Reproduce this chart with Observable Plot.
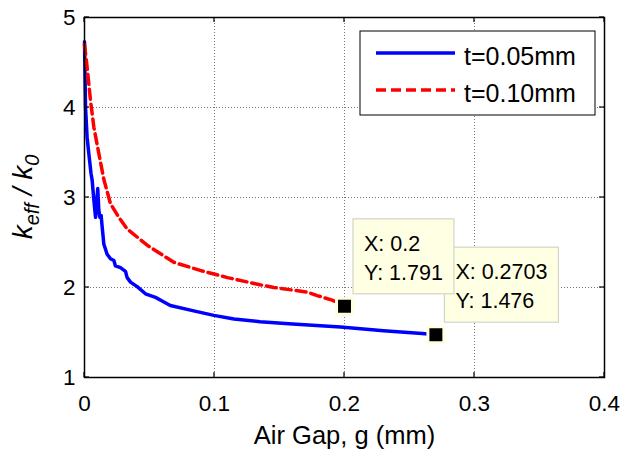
<!DOCTYPE html>
<html><head><meta charset="utf-8">
<script src="https://cdn.jsdelivr.net/npm/d3@7"></script>
<script src="https://cdn.jsdelivr.net/npm/@observablehq/plot@0.6"></script>
<style>body{margin:0;background:#fff} svg{display:block}</style>
</head><body><div id="chart"></div>
<script>
const xTicks = [0, 0.1, 0.2, 0.3, 0.4];
const yTicks = [1, 2, 3, 4, 5];
const seriesNames = ["t=0.05mm", "t=0.10mm"];
const xLabel = "Air Gap, g (mm)";

const blueX = [0, 0.0008, 0.002, 0.0033, 0.005, 0.0059, 0.0072, 0.0085, 0.0102, 0.011, 0.0118, 0.0128, 0.0136, 0.0149, 0.0174, 0.02, 0.0226, 0.0238, 0.0277, 0.0315, 0.0328, 0.0354, 0.0405, 0.0469, 0.0546, 0.0597, 0.066, 0.084, 0.0995, 0.115, 0.135, 0.16, 0.197, 0.23, 0.2597, 0.2703];
const blueY = [4.73, 4.0, 3.67, 3.49, 3.27, 3.19, 2.97, 2.78, 3.10, 2.86, 2.78, 2.80, 2.67, 2.48, 2.37, 2.32, 2.30, 2.24, 2.22, 2.18, 2.11, 2.06, 2.01, 1.93, 1.89, 1.85, 1.80, 1.74, 1.69, 1.65, 1.62, 1.595, 1.56, 1.52, 1.49, 1.476];

const redX = [0, 0.002, 0.0046, 0.0072, 0.011, 0.0149, 0.02, 0.0264, 0.0328, 0.0482, 0.0687, 0.089, 0.11, 0.135, 0.1456, 0.171, 0.179, 0.1905, 0.2];
const redY = [4.70, 4.45, 4.08, 3.78, 3.49, 3.20, 2.93, 2.78, 2.65, 2.47, 2.28, 2.19, 2.11, 2.03, 2.00, 1.95, 1.91, 1.86, 1.791];

const tipX = [0.2, 0.2703];
const tipY = [1.791, 1.476];
const tipLines = [["X: 0.2", "Y: 1.791"], ["X: 0.2703", "Y: 1.476"]];

const blue = blueX.map((x, i) => ({x, y: blueY[i]}));
const red = redX.map((x, i) => ({x, y: redY[i]}));
const tips = tipX.map((x, i) => ({x, y: tipY[i], lines: tipLines[i]}));

const FONT = "'Liberation Sans', Arial, Helvetica, sans-serif";

const plot = Plot.plot({
  width: 621, height: 454,
  marginLeft: 84, marginRight: 17, marginTop: 17, marginBottom: 77,
  x: {domain: [0, 0.4]},
  y: {domain: [1, 5]},
  style: {fontFamily: FONT, background: "#fff", color: "#000"},
  marks: [
    Plot.gridX(xTicks, {stroke: "#777", strokeOpacity: 1, strokeDasharray: "1,2"}),
    Plot.gridY(yTicks, {stroke: "#777", strokeOpacity: 1, strokeDasharray: "1,2"}),
    Plot.line(blue, {x: "x", y: "y", stroke: "#0000ff", strokeWidth: 3.5}),
    Plot.line(red, {x: "x", y: "y", stroke: "#ff0000", strokeWidth: 3.5, strokeDasharray: "10,5"}),
    Plot.dot(tips, {x: "x", y: "y", symbol: "square", r: 9, fill: "#000", stroke: "#ffffe0", strokeWidth: 3}),
    Plot.axisX(xTicks, {tickSize: 0, tickPadding: 18, fontSize: 22.5, label: null, tickFormat: d => String(d)}),
    Plot.axisY(yTicks, {tickSize: 0, tickPadding: 9, fontSize: 22.5, label: null, tickFormat: d => String(d)}),
    Plot.text([xLabel], {frameAnchor: "bottom", dy: 66, lineAnchor: "bottom", fontSize: 25.5, fill: "#000"}),
    Plot.frame({stroke: "#000", strokeWidth: 1.5})
  ]
});
document.getElementById("chart").appendChild(plot);

const svg = d3.select(plot);
const sx = plot.scale("x"), sy = plot.scale("y");
const L = sx.apply(xTicks[0]), R = sx.apply(xTicks[xTicks.length - 1]);
const T = sy.apply(yTicks[yTicks.length - 1]), B = sy.apply(yTicks[0]);
const tk = 5;
const g = svg.append("g").attr("stroke", "#000").attr("stroke-width", 1.2);
xTicks.forEach(t => {
  const px = sx.apply(t);
  g.append("line").attr("x1", px).attr("x2", px).attr("y1", B).attr("y2", B - tk);
  g.append("line").attr("x1", px).attr("x2", px).attr("y1", T).attr("y2", T + tk);
});
yTicks.forEach(t => {
  const py = sy.apply(t);
  g.append("line").attr("x1", L).attr("x2", L + tk).attr("y1", py).attr("y2", py);
  g.append("line").attr("x1", R).attr("x2", R - tk).attr("y1", py).attr("y2", py);
});

// y label
const yl = svg.append("text")
  .attr("transform", `translate(32,${(T + B) / 2}) rotate(-90)`)
  .attr("text-anchor", "middle")
  .attr("font-family", FONT).attr("font-size", 28).attr("font-style", "italic").attr("fill", "#000");
yl.append("tspan").text("k");
yl.append("tspan").attr("font-size", 20).attr("dy", 7).text("eff");
yl.append("tspan").attr("dy", -7).text(" / k");
yl.append("tspan").attr("font-size", 20).attr("dy", 7).text("0");

// legend
const lg = svg.append("g").attr("font-family", FONT).attr("text-anchor", "start");
const lgW = 235, lgH = 84, lgX = R - 9 - lgW, lgY = T + 14;
lg.append("rect").attr("x", lgX).attr("y", lgY).attr("width", lgW).attr("height", lgH)
  .attr("fill", "#fff").attr("stroke", "#000").attr("stroke-width", 1);
const styles = [{stroke: "#0000ff", dash: null}, {stroke: "#ff0000", dash: "10,5"}];
seriesNames.forEach((name, i) => {
  const cy = lgY + 22 + i * 37;
  const ln = lg.append("line").attr("x1", lgX + 16).attr("x2", lgX + 95).attr("y1", cy).attr("y2", cy)
    .attr("stroke", styles[i].stroke).attr("stroke-width", 3.5);
  if (styles[i].dash) ln.attr("stroke-dasharray", styles[i].dash);
  lg.append("text").attr("x", lgX + 104).attr("y", cy + 12).attr("font-size", 25).attr("fill", "#000").text(name);
});

// data tips (second drawn first, so the first sits on top)
[1, 0].forEach(i => {
  const d = tips[i];
  const mx = sx.apply(d.x), my = sy.apply(d.y);
  const tg = svg.append("g").attr("font-family", FONT).attr("font-size", 21.5).attr("text-anchor", "start");
  const rect = tg.append("rect").attr("fill", "#ffffe4").attr("stroke", "#d4d4c8").attr("stroke-width", 1.2);
  const texts = d.lines.map((s, j) => tg.append("text").attr("x", mx + 9 + 11).attr("y", my - 87 + 32 + j * 29).attr("fill", "#000").text(s));
  const w = d3.max(texts, t => t.node().getComputedTextLength()) + 22;
  rect.attr("x", mx + 9).attr("y", my - 87).attr("width", w).attr("height", 75);
});
</script>
</body></html>
